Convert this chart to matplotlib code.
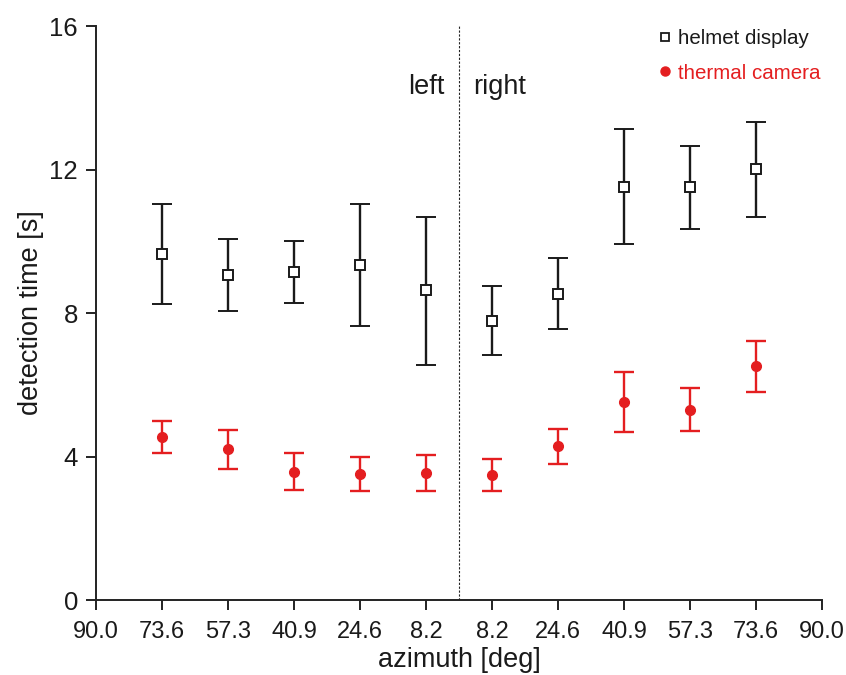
import matplotlib
matplotlib.use("Agg")
import matplotlib.pyplot as plt
from matplotlib import font_manager
import numpy as np

# ---- data ----
tick_labels = ["90.0", "73.6", "57.3", "40.9", "24.6", "8.2",
               "8.2", "24.6", "40.9", "57.3", "73.6", "90.0"]
point_pos = [1, 2, 3, 4, 5, 6, 7, 8, 9, 10]

helmet_mean = [9.65, 9.06, 9.14, 9.35, 8.63, 7.79, 8.53, 11.51, 11.50, 12.02]
helmet_low  = [8.25, 8.05, 8.27, 7.63, 6.55, 6.82, 7.55, 9.91, 10.34, 10.67]
helmet_high = [11.04, 10.06, 10.00, 11.05, 10.68, 8.76, 9.52, 13.13, 12.66, 13.33]

thermal_mean = [4.55, 4.20, 3.58, 3.52, 3.53, 3.49, 4.28, 5.52, 5.30, 6.51]
thermal_low  = [4.09, 3.65, 3.08, 3.05, 3.03, 3.03, 3.78, 4.67, 4.70, 5.79]
thermal_high = [5.00, 4.74, 4.09, 3.98, 4.03, 3.94, 4.77, 6.36, 5.90, 7.21]

y_ticks = [0, 4, 8, 12, 16]
series_names = ["helmet display", "thermal camera"]

# ---- fonts ----
names = {f.name for f in font_manager.fontManager.ttflist}
base = "Liberation Sans" if "Liberation Sans" in names else "DejaVu Sans"
plt.rcParams['font.family'] = [base, 'DejaVu Sans']

red = '#e41e20'
dark = '#1a1a1a'

W, H = 846, 675
fig = plt.figure(figsize=(W / 100, H / 100), dpi=100)
ax = fig.add_axes([96/W, 75/H, (822-96)/W, (600-26)/H])

hm = np.array(helmet_mean)
ax.errorbar(point_pos, hm,
            yerr=[hm - np.array(helmet_low), np.array(helmet_high) - hm],
            fmt='s', color=dark, mfc='white', mec=dark, ms=7, mew=1.4,
            ecolor=dark, elinewidth=1.7, capsize=7, capthick=1.7,
            zorder=3)

tm = np.array(thermal_mean)
ax.errorbar(point_pos, tm,
            yerr=[tm - np.array(thermal_low), np.array(thermal_high) - tm],
            fmt='o', color=red, mfc=red, mec=red, ms=7,
            ecolor=red, elinewidth=1.7, capsize=7, capthick=1.7,
            zorder=3)

ax.axvline(5.5, color='#222222', lw=0.8, ls=(0, (2, 1.5)), zorder=1)

ax.text(5.28, 14.1, "left", ha='right', va='baseline', fontsize=19.5, color=dark)
ax.text(5.72, 14.1, "right", ha='left', va='baseline', fontsize=19.5, color=dark)

ax.set_xlim(0, 11)
ax.set_ylim(0, 16)
ax.set_xticks(range(len(tick_labels)))
ax.set_xticklabels(tick_labels, fontsize=17)
ax.set_yticks(y_ticks)
ax.set_yticklabels([str(t) for t in y_ticks], fontsize=18.5)

for s in ['top', 'right']:
    ax.spines[s].set_visible(False)
for s in ['left', 'bottom']:
    ax.spines[s].set_linewidth(1.4)
    ax.spines[s].set_color('#222222')
ax.tick_params(axis='both', direction='out', length=7, width=1.4, color='#222222',
               labelcolor=dark)
ax.tick_params(axis='x', pad=8)
ax.tick_params(axis='y', pad=6)

ax.set_xlabel("azimuth [deg]", fontsize=19.5, labelpad=3, color=dark)
ax.set_ylabel("detection time [s]", fontsize=19.5, labelpad=4, color=dark)

# legend (manual, positioned in figure coordinates)
ax.plot([665/W], [1 - 37/H], marker='s', ls='', mfc='white', mec=dark, ms=6, mew=1.3,
        transform=fig.transFigure, clip_on=False)
ax.plot([665/W], [1 - 71/H], marker='o', ls='', mfc=red, mec=red, ms=6.5,
        transform=fig.transFigure, clip_on=False)
fig.text(678/W, 1 - 44/H, series_names[0], fontsize=14.8, color=dark,
         ha='left', va='baseline')
fig.text(678/W, 1 - 79/H, series_names[1], fontsize=14.8, color=red,
         ha='left', va='baseline')

fig.savefig("out.png", dpi=100)
